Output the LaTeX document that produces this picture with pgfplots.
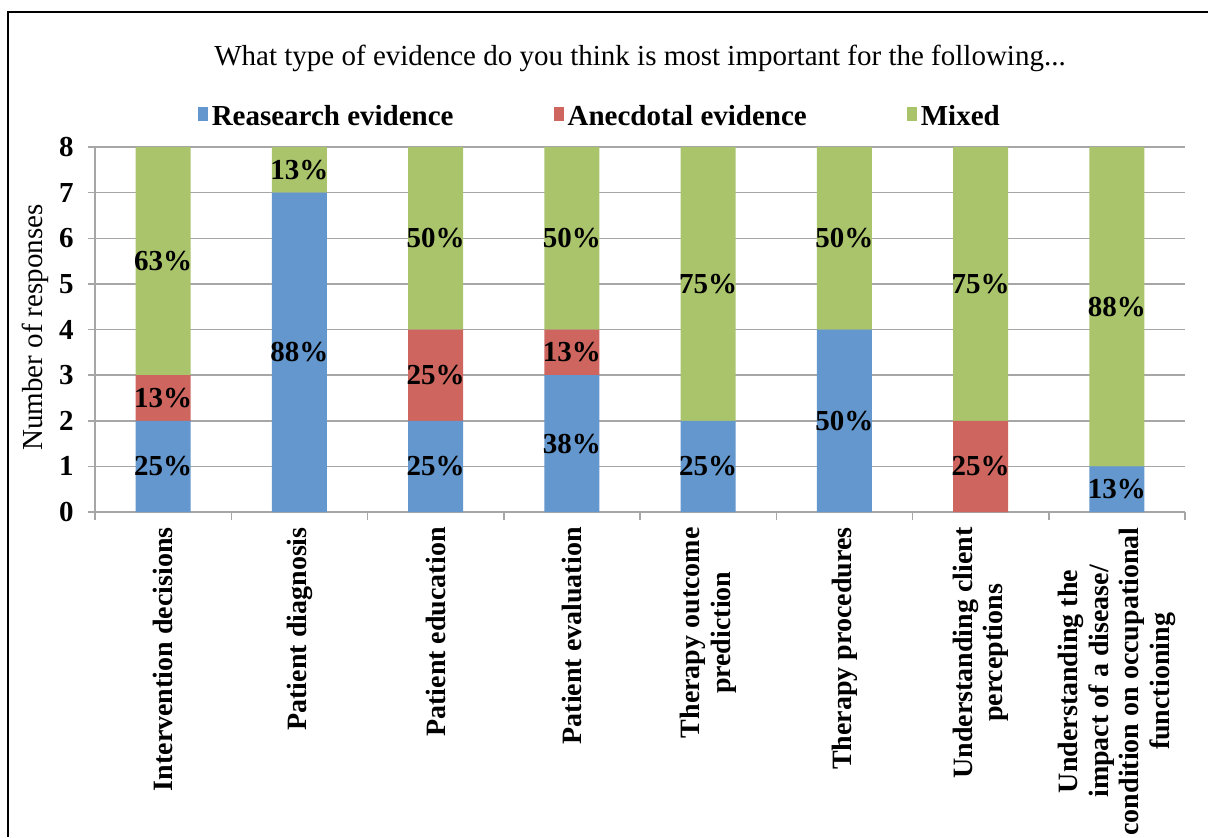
\documentclass[border=0pt]{standalone}
\usepackage{pgfplots}
\pgfplotsset{compat=1.18}
\usepackage{pgfplotstable}
\usepackage{fontspec}
\setmainfont{Liberation Serif}

\definecolor{resblue}{HTML}{6397CD}
\definecolor{anecred}{HTML}{CE665F}
\definecolor{mixgreen}{HTML}{AAC46C}
\definecolor{gridgray}{HTML}{A6A6A6}

\newcommand\fs{\fontsize{14.5}{15.5}\selectfont}
\newcommand\fx{\fontsize{14}{15.2}\selectfont}

% numbers in the text font rather than math font
\pgfkeys{/pgf/number format/assume math mode=true}

% responses per activity: r = research, a = anecdotal, m = mixed
\pgfplotstableread{
x r a m
0 2 1 5
1 7 0 1
2 2 2 4
3 3 1 4
4 2 0 6
5 4 0 4
6 0 2 6
7 1 0 7
}\evidence

\pgfplotsset{
  frame/.style={
    at={(47.5pt,162.5pt)}, anchor=south west,
    scale only axis, width=545pt, height=182.5pt,
    xmin=-0.5, xmax=7.5, ymin=0, ymax=8,
  },
}

\begin{document}
\begin{tikzpicture}
\useasboundingbox (0,0) rectangle (604pt,418.5pt);
\draw[line width=1pt] (4pt,0) -- (4pt,412.5pt) -- (604pt,412.5pt);

\node[font=\fs] at (320pt,389.5pt) {What type of evidence do you think is most important for the following...};
\node[font=\fs, rotate=90] at (17.5pt,254.75pt) {Number of responses};

\begin{axis}[frame,
  ybar stacked, bar width=27.5pt,
  axis x line*=bottom, axis y line*=left,
  axis line style={gridgray, line width=0.75pt},
  ymajorgrids, grid style={gridgray, line width=0.75pt},
  ytick={0,...,8},
  xtick={0,...,7},
  minor xtick={-0.5,0.5,...,7.5},
  tick align=outside,
  major x tick style={draw=none},
  every tick/.style={gridgray, line width=0.75pt},
  major tick length=3.5pt, minor tick length=4pt,
  yticklabel style={font=\fs\bfseries, inner sep=0pt, xshift=-7pt},
  xticklabels={
    Intervention decisions,
    Patient diagnosis,
    Patient education,
    Patient evaluation,
    {Therapy outcome\\prediction},
    Therapy procedures,
    {Understanding client\\perceptions},
    {Understanding the\\impact of a disease/\\condition on occupational\\functioning}},
  xticklabel style={rotate=90, anchor=east, align=center, font=\fx\bfseries, inner sep=0pt, xshift=-4pt},
  legend columns=3,
  legend style={at={(0.464,1.082)}, anchor=center, draw=none, fill=none,
    font=\fs\bfseries, inner sep=0pt,
    /tikz/every even column/.append style={column sep=48pt}},
  legend image code/.code={\fill[#1] (-1pt,-2pt) rectangle (4pt,5pt);},
]
\addplot[fill=resblue, draw=none] table[x=x, y=r] {\evidence};
\addplot[fill=anecred, draw=none] table[x=x, y=a] {\evidence};
\addplot[fill=mixgreen, draw=none] table[x=x, y=m] {\evidence};
\legend{Reasearch evidence, Anecdotal evidence, Mixed}
\end{axis}

% share of the eight responses, centred on each segment
\begin{axis}[frame, hide axis,
  nodes near coords={\pgfmathprintnumber[fixed,precision=0]{\pgfplotspointmeta}\%},
  every node near coord/.append style={anchor=center, font=\fs\bfseries, inner sep=0pt},
]
\addplot[draw=none, mark=none, restrict expr to domain={\thisrow{r}}{0.5:100},
  point meta={100*\thisrow{r}/8}]
  table[x=x, y expr={\thisrow{r}/2}] {\evidence};
\addplot[draw=none, mark=none, restrict expr to domain={\thisrow{a}}{0.5:100},
  point meta={100*\thisrow{a}/8}]
  table[x=x, y expr={\thisrow{r}+\thisrow{a}/2}] {\evidence};
\addplot[draw=none, mark=none, restrict expr to domain={\thisrow{m}}{0.5:100},
  point meta={100*\thisrow{m}/8}]
  table[x=x, y expr={\thisrow{r}+\thisrow{a}+\thisrow{m}/2}] {\evidence};
\end{axis}
\end{tikzpicture}
\end{document}
